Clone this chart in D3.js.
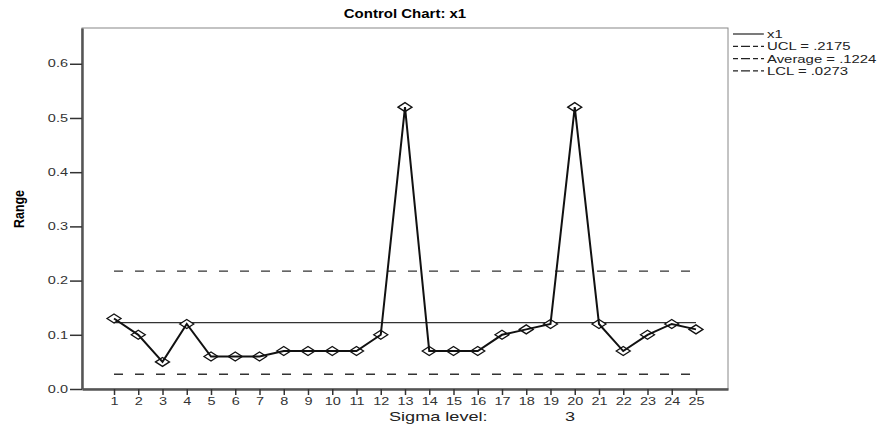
<!DOCTYPE html>
<html>
<head>
<meta charset="UTF-8">
<style>
  body { margin: 0; background: #fff; }
  text { font-family: Arial, "Liberation Sans", sans-serif; }
</style>
</head>
<body>
<div id="chart"></div>
<script src="https://d3js.org/d3.v7.min.js"></script>
<script>
// data
var samples = d3.range(1, 26);
var ranges = [0.13, 0.10, 0.05, 0.12, 0.06, 0.06, 0.06, 0.07, 0.07, 0.07, 0.07, 0.10, 0.52,
              0.07, 0.07, 0.07, 0.10, 0.11, 0.12, 0.52, 0.12, 0.07, 0.10, 0.12, 0.11];
var limitNames = ["UCL", "Average", "LCL"];
var limitValues = [0.2175, 0.1224, 0.0273];
var limitLabels = ["UCL = .2175", "Average = .1224", "LCL = .0273"];
var yTicks = [0.0, 0.1, 0.2, 0.3, 0.4, 0.5, 0.6];

var W = 892, H = 426;
// plot box (note: "top" is reserved on window, so use p-prefixed names)
var pLeft = 82, pRight = 728, pTop = 28, pBottom = 389;
var wide = 1.45; // the original's text is stretched sideways

var svg = d3.select("#chart").append("svg")
    .attr("width", W).attr("height", H);

var x = d3.scaleLinear().domain([1 - 1.32, 25 + 1.32]).range([pLeft, pRight]);
var y = d3.scaleLinear().domain([0, 0.666]).range([pBottom, pTop]);

// frame
svg.append("rect")
    .attr("x", pLeft).attr("y", pTop)
    .attr("width", pRight - pLeft).attr("height", pBottom - pTop)
    .attr("fill", "none").attr("stroke", "#888").attr("stroke-width", 1);

// axes
var yAxis = svg.append("g")
    .attr("transform", "translate(" + pLeft + ",0)")
    .call(d3.axisLeft(y).tickValues(yTicks).tickFormat(d3.format(".1f"))
        .tickSize(12).tickSizeOuter(0).tickPadding(1));
var xAxis = svg.append("g")
    .attr("transform", "translate(0," + pBottom + ")")
    .call(d3.axisBottom(x).tickValues(samples).tickFormat(d3.format("d"))
        .tickSize(6).tickSizeOuter(0).tickPadding(3));

[yAxis, xAxis].forEach(function (g) {
    g.select(".domain").attr("stroke", "#555").attr("stroke-width", 2.5);
    g.selectAll(".tick line").attr("stroke", "#333").attr("stroke-width", 1.5);
    g.selectAll(".tick text").attr("fill", "#333").style("font-size", "10px")
        .style("font-family", "Arial, 'Liberation Sans', sans-serif");
});
yAxis.selectAll(".tick text")
    .attr("x", 0)
    .attr("transform", "translate(-14,0) scale(" + wide + ",1)");
xAxis.selectAll(".tick text")
    .attr("transform", "scale(" + wide + ",1)");

// control limits
limitValues.forEach(function (v, i) {
    svg.append("line")
        .attr("x1", x(1)).attr("x2", x(25))
        .attr("y1", y(v)).attr("y2", y(v))
        .attr("stroke", "#333").attr("stroke-width", 1.4)
        .attr("stroke-dasharray", limitNames[i] == "Average" ? null : "9,12");
});

// markers
svg.selectAll(".pt")
    .data(ranges)
    .enter()
    .append("path")
    .attr("class", "pt")
    .attr("d", "M-7,0L0,-4.5L7,0L0,4.5Z")
    .attr("transform", function (d, i) { return "translate(" + x(samples[i]) + "," + y(d) + ")"; })
    .attr("fill", "#fff").attr("stroke", "#111").attr("stroke-width", 1.3);

// data line
var line = d3.line()
    .x(function (d, i) { return x(samples[i]); })
    .y(function (d) { return y(d); });
svg.append("path")
    .datum(ranges)
    .attr("d", line)
    .attr("fill", "none").attr("stroke", "#111").attr("stroke-width", 2);

// title
svg.append("text")
    .attr("transform", "translate(" + (pLeft + pRight) / 2 + ",18) scale(1.2,1)")
    .attr("text-anchor", "middle")
    .style("font-size", "12.5px").style("font-weight", "bold")
    .text("Control Chart: x1");

// axis labels
svg.append("text")
    .attr("transform", "translate(24,209) rotate(-90) scale(0.83,1)")
    .attr("text-anchor", "middle")
    .style("font-size", "15px").style("font-weight", "bold")
    .text("Range");
svg.append("text")
    .attr("transform", "translate(389,421) scale(" + wide + ",1)")
    .style("font-size", "12.5px").attr("fill", "#222")
    .text("Sigma level:");
svg.append("text")
    .attr("transform", "translate(565,421) scale(" + wide + ",1)")
    .style("font-size", "12.5px").attr("fill", "#222")
    .text("3");

// legend
var legendNames = ["x1"].concat(limitLabels);
var lg = svg.append("g").attr("transform", "translate(733,34)");
legendNames.forEach(function (name, i) {
    lg.append("line")
        .attr("x1", 0).attr("x2", 31)
        .attr("y1", i * 12.3).attr("y2", i * 12.3)
        .attr("stroke", "#222").attr("stroke-width", 1.2)
        .attr("stroke-dasharray", i == 0 ? null : "5,3,9,3");
    lg.append("text")
        .attr("transform", "translate(34," + (i * 12.3 + 4) + ") scale(1.42,1)")
        .style("font-size", "10.5px")
        .attr("fill", "#222")
        .text(name);
});
</script>
</body>
</html>
